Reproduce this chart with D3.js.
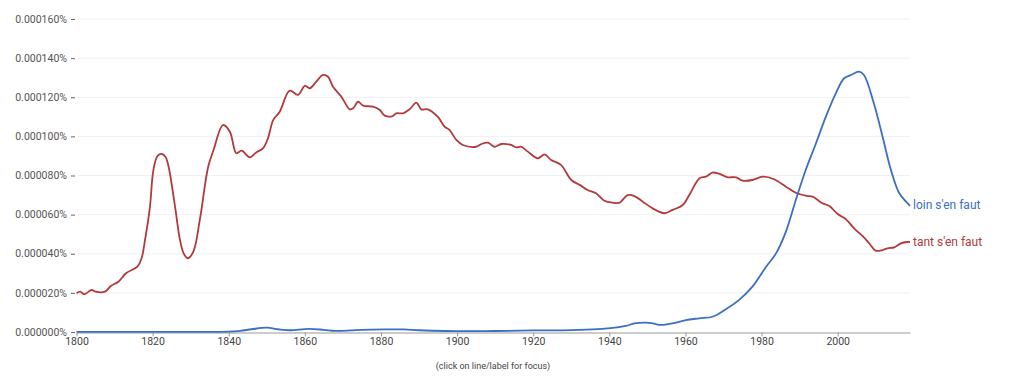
<!DOCTYPE html>
<html><head><meta charset="utf-8">
<script src="https://cdn.jsdelivr.net/npm/d3@7"></script>
<style>
html,body{margin:0;padding:0;background:#fff;}
svg{display:block;font-family:Roboto,"Noto Sans",sans-serif;}
</style></head>
<body>
<svg id="chart" width="1024" height="392"></svg>
<script>
// values are in units of 0.000001 %
const tantYears = [1800,1801,1802,1804,1805,1807.5,1809,1811,1813,1816,1817.1,1818,1819.3,1820,1820.6,1821.3,1822.4,1823.4,1824.2,1825.9,1827.2,1828.2,1829.3,1830.7,1832.4,1834.6,1836,1838.5,1840.3,1842,1843.4,1845.5,1847.3,1849,1850.3,1851.7,1853.4,1856,1858.2,1860,1861.3,1863,1864.8,1866.1,1867.4,1869.6,1871.8,1872.7,1874,1875.3,1877.9,1879.7,1881,1883.1,1884,1885.8,1887.5,1889.3,1890.6,1892.3,1895,1896.7,1898,1899.8,1901.5,1905,1906.4,1908.1,1909.8,1911.6,1914.2,1915.5,1916.8,1918.6,1921.2,1923,1924.7,1927.3,1930,1932.2,1934.3,1936.5,1938.7,1940.9,1942.7,1944.8,1946.6,1948.8,1951.4,1954.5,1956.6,1959.3,1961,1963.7,1965.4,1967.1,1968.9,1971.1,1973.3,1975,1977.6,1980.3,1983.3,1986.4,1989,1992.1,1993.4,1996,1997.8,2000,2002.2,2004.3,2006.5,2008.3,2010,2011.8,2013.1,2014.9,2016.6,2018.3,2019];
const tantValues = [19.8,20.6,19.3,21.5,20.6,20.6,23.5,25.7,30.0,33.4,37.7,47.0,64.0,80.0,86.5,90.0,91.0,89.5,84.5,64.0,47.0,40.0,37.7,41.1,57.3,84.5,93.0,105.8,102.4,91.4,92.7,89.3,91.9,93.9,99.0,108.4,112.6,123.4,121.2,125.8,124.6,128.0,131.4,130.5,125.4,120.3,113.8,114.4,117.7,115.7,115.2,113.5,110.6,110.4,111.8,111.8,113.8,117.2,113.8,113.8,109.8,105.0,103.3,98.2,95.6,94.7,96.1,96.8,94.7,96.1,95.6,94.4,94.7,92.2,88.8,90.8,87.9,85.4,77.7,75.2,72.6,70.9,67.1,66.1,66.1,70.0,69.5,66.6,63.2,60.7,62.4,64.9,70.0,78.6,79.4,81.5,80.8,79.1,79.1,77.4,77.7,79.4,78.1,74.3,71.2,69.5,69.2,65.8,64.4,60.3,57.6,53.0,49.1,45.3,41.6,41.9,42.8,43.3,45.3,46.0,46.0];
const loinYears = [1800,1810,1820,1830,1840,1843,1846,1850,1853,1856,1861,1865,1868,1872,1875,1881,1886,1890,1897,1905,1910,1920,1930,1937,1939.6,1942,1944.4,1946.6,1949.7,1951.4,1953.6,1956.6,1960.1,1963.6,1967.1,1970.6,1974.1,1977.6,1981.2,1983.8,1986.4,1989,1991.6,1994.3,1996.9,1999.5,2001.7,2003.5,2005.6,2006.9,2009.5,2011.8,2014,2016.2,2018.8,2019];
const loinValues = [0.1,0.1,0.1,0.1,0.2,0.6,1.4,2.2,1.4,0.9,1.6,1.1,0.6,0.8,1.1,1.3,1.3,0.9,0.5,0.4,0.5,0.8,1.0,1.5,1.9,2.4,3.1,4.4,4.8,4.4,3.6,4.4,6.1,7.0,7.8,11.6,16.4,23.2,33.4,40.2,51.3,67.5,82.8,96.5,110.1,122.0,129.7,131.4,133.1,131.4,116.9,99.8,82.8,70.9,64.9,64.5];
const xTicks = [1800,1820,1840,1860,1880,1900,1920,1940,1960,1980,2000];
const yTicks = [0,20,40,60,80,100,120,140,160];
const seriesNames = ["loin s'en faut","tant s'en faut"];
const seriesColors = ["#3b6fc1","#b3393b"];

const svg = d3.select("#chart");
const x = d3.scaleLinear().domain([1800,2019]).range([76.5,910]);
const y = d3.scaleLinear().domain([0,160]).range([332,19]);

// gridlines
svg.append("g").selectAll("line").data(yTicks.filter(d=>d>0)).join("line")
  .attr("x1",78).attr("x2",910).attr("y1",d=>y(d)).attr("y2",d=>y(d))
  .attr("stroke","#f0f0f0").attr("stroke-width",1);

// y axis labels
const fmt = d => (d/1e6).toFixed(6) + "%";
const yl = svg.append("g");
yl.selectAll("text").data(yTicks).join("text")
  .attr("x",67).attr("y",d=>y(d)).attr("dy","0.35em")
  .attr("text-anchor","end").attr("font-size",10.5).attr("fill","#555")
  .text(fmt);
yl.selectAll("line").data(yTicks).join("line")
  .attr("x1",71).attr("x2",75).attr("y1",d=>y(d)+0.5).attr("y2",d=>y(d)+0.5)
  .attr("stroke","#666").attr("stroke-width",1);

// x axis
const xAxis = d3.axisBottom(x).tickValues(xTicks).tickFormat(d3.format("d")).tickSize(4).tickSizeOuter(0);
const gx = svg.append("g").attr("transform","translate(0,332.5)").call(xAxis);
gx.select(".domain").attr("stroke","#999").attr("stroke-width",1.2);
gx.selectAll(".tick line").attr("stroke","#999");
gx.selectAll(".tick text").attr("font-size",10.5).attr("fill","#444").attr("y",5).attr("dy","0.71em")
  .attr("font-family","Roboto,'Noto Sans',sans-serif");

// lines
const line = d3.line().x(d=>x(d[0])).y(d=>y(d[1])).curve(d3.curveCatmullRom.alpha(0.5));
const tantData = tantYears.map((t,i)=>[t,tantValues[i]]);
const loinData = loinYears.map((t,i)=>[t,loinValues[i]]);
svg.append("path").datum(tantData).attr("d",line).attr("fill","none")
  .attr("stroke",seriesColors[1]).attr("stroke-width",1.8).attr("stroke-linejoin","round");
svg.append("path").datum(loinData).attr("d",line).attr("fill","none")
  .attr("stroke",seriesColors[0]).attr("stroke-width",1.8).attr("stroke-linejoin","round");

// series labels
svg.append("text").attr("x",913).attr("y",y(loinValues[loinValues.length-1])-1).attr("dy","0.35em")
  .attr("font-size",12).attr("fill",seriesColors[0]).text(seriesNames[0]);
svg.append("text").attr("x",913).attr("y",y(tantValues[tantValues.length-1])).attr("dy","0.35em")
  .attr("font-size",12).attr("fill",seriesColors[1]).text(seriesNames[1]);

// footnote
svg.append("text").attr("x",493).attr("y",366).attr("dy","0.35em").attr("text-anchor","middle")
  .attr("font-size",9).attr("fill","#444").text("(click on line/label for focus)");
</script>
</body></html>
